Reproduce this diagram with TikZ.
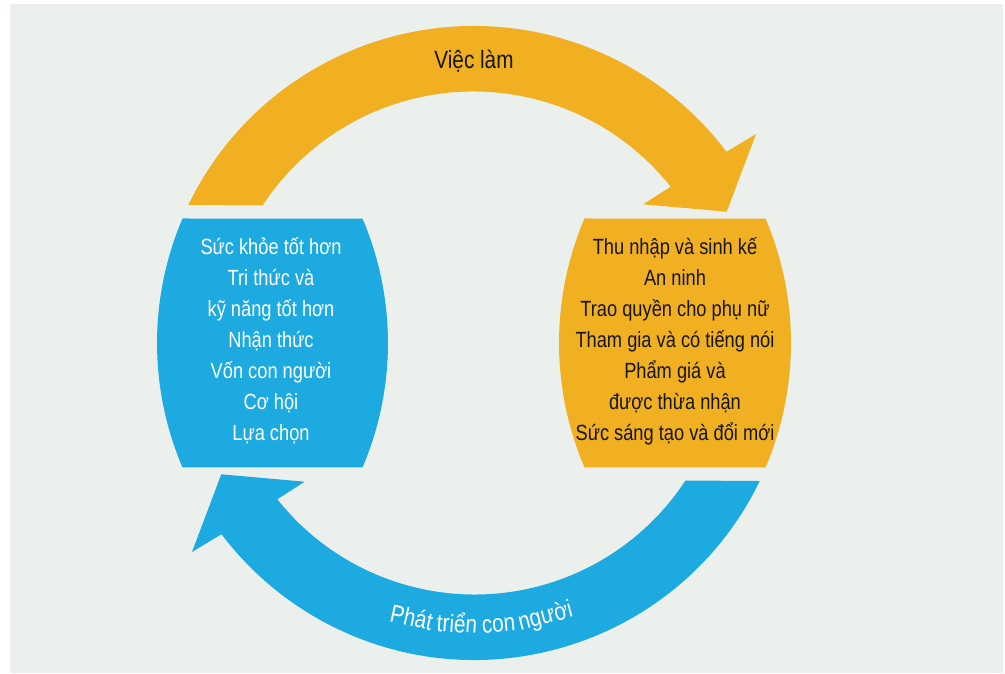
\documentclass[tikz,border=0pt]{standalone}
\usepackage{fontspec}
\setmainfont{Liberation Sans}[FakeStretch=0.83]
\usetikzlibrary{calc}
\definecolor{bgc}{HTML}{ECF0ED}
\definecolor{orangec}{HTML}{F0B021}
\definecolor{bluec}{HTML}{1DAAE0}
\definecolor{darktxt}{HTML}{161616}
\begin{document}
\begin{tikzpicture}[x=1pt,y=1pt,
  boxtxt/.style={anchor=base, inner sep=0pt, font=\fontsize{22}{31}\selectfont},
  arctxt/.style={anchor=base, inner sep=0pt, text=white, font=\fontsize{25}{30}\selectfont}]
\useasboundingbox (0,0) rectangle (1005,673);
\fill[white] (0,0) rectangle (1005,673);
\fill[bgc] (10,0) rectangle (1003,669);
\coordinate (C) at (474,330);
% ring arrow (orange on top; blue is the same shape turned by 180 degrees)
\newcommand{\ringarrow}{%
  (188.3,468) arc[start angle=154.19, end angle=37.1, radius=317]
  -- (756,539) -- (726.7,461.3) -- (643.3,468.7) -- (670.7,486.3)
  arc[start angle=38.47, end angle=146.8, radius=252] -- cycle}
\fill[orangec] \ringarrow;
\begin{scope}[rotate around={180:(474,330)}]
\fill[bluec] \ringarrow;
\end{scope}
% left box
\fill[bluec] (182.5,454.5) arc[start angle=156.88, end angle=203.12, radius=317]
  -- (362.5,205.5) arc[start angle=-23.12, end angle=23.12, radius=317] -- cycle;
% right box
\fill[orangec] (584.5,454.5) arc[start angle=156.88, end angle=203.12, radius=317]
  -- (765.5,205.5) arc[start angle=-23.12, end angle=23.12, radius=317] -- cycle;
% left texts
\foreach \t [count=\i] in {Sức khỏe tốt hơn, Tri thức và, kỹ năng tốt hơn, Nhận thức, Vốn con người, Cơ hội, Lựa chọn}
  \node[boxtxt, text=white] (L\i) at (271,{418-31*(\i-1)}) {\t};
% right texts
\foreach \t [count=\i] in {Thu nhập và sinh kế, An ninh, Trao quyền cho phụ nữ, Tham gia và có tiếng nói, Phẩm giá và, được thừa nhận, Sức sáng tạo và đổi mới}
  \node[boxtxt, text=darktxt] (R\i) at (675,{418-31*(\i-1)}) {\t};
% top label
\node[anchor=base, inner sep=0pt, text=darktxt, font=\fontsize{25}{30}\selectfont] (top) at (474,604) {Việc làm};
% bottom label, word by word along the arc
\node[arctxt, rotate=-12.8] (w1) at ($(C)+(257.2:290)$) {Phát};
\node[arctxt, rotate=-3.45] (w2) at ($(C)+(266.55:290)$) {triển};
\node[arctxt, rotate=4.99] (w3) at ($(C)+(274.99:290)$) {con};
\node[arctxt, rotate=14.63] (w4) at ($(C)+(284.63:290)$) {người};
\end{tikzpicture}
\end{document}
